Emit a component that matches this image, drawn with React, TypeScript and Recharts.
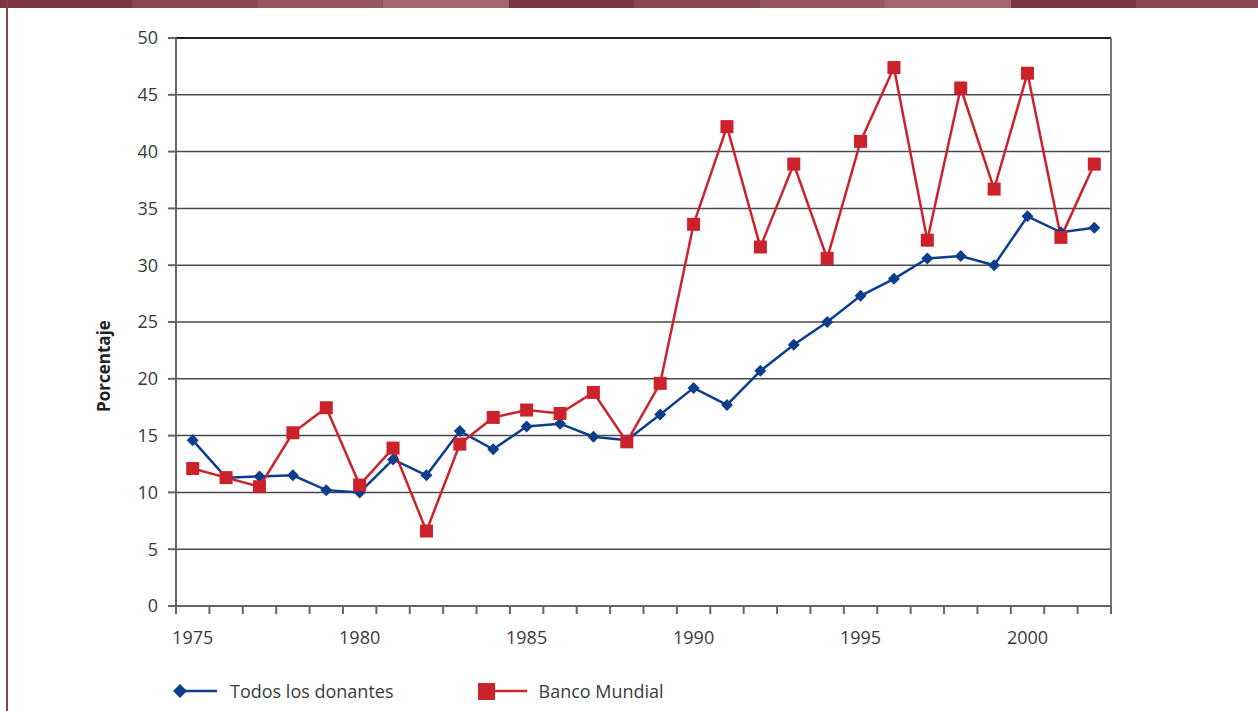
import { CartesianGrid, Line, LineChart, ReferenceLine, XAxis, YAxis } from "recharts";

const YEARS = [
  1975, 1976, 1977, 1978, 1979, 1980, 1981, 1982, 1983, 1984, 1985, 1986, 1987, 1988,
  1989, 1990, 1991, 1992, 1993, 1994, 1995, 1996, 1997, 1998, 1999, 2000, 2001, 2002,
];

const TODOS_LOS_DONANTES = [
  14.6, 11.3, 11.4, 11.5, 10.2, 10.0, 12.9, 11.5, 15.4, 13.8, 15.8, 16.05, 14.9, 14.6,
  16.85, 19.2, 17.7, 20.7, 23.0, 25.0, 27.3, 28.8, 30.6, 30.8, 30.0, 34.3, 32.9, 33.3,
];

const BANCO_MUNDIAL = [
  12.1, 11.3, 10.5, 15.25, 17.45, 10.65, 13.9, 6.6, 14.25, 16.6, 17.25, 16.95, 18.8, 14.45,
  19.6, 33.6, 42.2, 31.6, 38.9, 30.6, 40.9, 47.4, 32.2, 45.6, 36.7, 46.9, 32.45, 38.9,
];

const Y_TICKS = [0, 5, 10, 15, 20, 25, 30, 35, 40, 45, 50];
const YEAR_LABELS = [1975, 1980, 1985, 1990, 1995, 2000];
const YEAR_BOUNDARIES = [
  1974.5, 1975.5, 1976.5, 1977.5, 1978.5, 1979.5, 1980.5, 1981.5, 1982.5, 1983.5, 1984.5,
  1985.5, 1986.5, 1987.5, 1988.5, 1989.5, 1990.5, 1991.5, 1992.5, 1993.5, 1994.5, 1995.5,
  1996.5, 1997.5, 1998.5, 1999.5, 2000.5, 2001.5, 2002.5,
];

const BAR_COLORS = [
  "#7e3441", "#8a4751", "#97575f", "#a2686d", "#7e3441",
  "#8a4751", "#97575f", "#a2686d", "#7e3441", "#8a4751",
];

const BLUE = "#0e3d8b";
const RED = "#cc222b";
const AXIS = "#666";
const TEXT = "#3a3a3a";
const FONT = "'Open Sans', sans-serif";

const data = YEARS.map((year, i) => ({
  year,
  todos: TODOS_LOS_DONANTES[i],
  banco: BANCO_MUNDIAL[i],
}));

function diamondDot(props: any) {
  const { cx, cy, index } = props;
  if (cx == null || cy == null) return <g key={index} />;
  const r = 6;
  return (
    <polygon
      key={index}
      points={`${cx},${cy - r} ${cx + r},${cy} ${cx},${cy + r} ${cx - r},${cy}`}
      fill={BLUE}
    />
  );
}

function squareDot(props: any) {
  const { cx, cy, index } = props;
  if (cx == null || cy == null) return <g key={index} />;
  const s = 13;
  return <rect key={index} x={cx - s / 2} y={cy - s / 2} width={s} height={s} fill={RED} />;
}

function YLabel() {
  return (
    <text
      x={110}
      y={366}
      transform="rotate(-90, 110, 366)"
      textAnchor="middle"
      fontFamily={FONT}
      fontWeight={700}
      fontSize={17}
      fill="#222"
    >
      Porcentaje
    </text>
  );
}

export default function App() {
  return (
    <div
      style={{
        position: "absolute",
        left: 0,
        top: 0,
        width: 1258,
        height: 711,
        background: "#fff",
        fontFamily: FONT,
        overflow: "hidden",
      }}
    >
      <div style={{ position: "absolute", top: 0, left: 0, display: "flex" }}>
        {BAR_COLORS.map((c, i) => (
          <div key={i} style={{ width: i === 0 ? 132 : 125.5, height: 8, background: c }} />
        ))}
      </div>
      <div style={{ position: "absolute", top: 0, left: 6, width: 2, height: 711, background: "#8b3b4a" }} />

      <LineChart
        width={1258}
        height={711}
        data={data}
        margin={{ top: 38, right: 147, bottom: 64, left: 0 }}
      >
        <CartesianGrid horizontal vertical={false} stroke="#4a4a4a" strokeWidth={1.5} />
        <XAxis
          xAxisId="marks"
          dataKey="year"
          type="number"
          domain={[1974.5, 2002.5]}
          ticks={YEAR_BOUNDARIES}
          tickFormatter={() => ""}
          tickSize={8}
          height={1}
          stroke={AXIS}
          strokeWidth={2}
          allowDataOverflow
        />
        <XAxis
          xAxisId="years"
          dataKey="year"
          type="number"
          domain={[1974.5, 2002.5]}
          ticks={YEAR_LABELS}
          axisLine={false}
          tickLine={false}
          tickSize={16}
          tickMargin={8}
          height={40}
          tick={{ fill: TEXT, fontSize: 18, fontFamily: FONT }}
          allowDataOverflow
        />
        <YAxis
          type="number"
          domain={[0, 50]}
          ticks={Y_TICKS}
          width={176}
          tickSize={8}
          tickMargin={10}
          stroke={AXIS}
          strokeWidth={2}
          tick={{ fill: TEXT, fontSize: 18, fontFamily: FONT }}
          label={<YLabel />}
        />
        <ReferenceLine y={50} xAxisId="years" stroke="#222" strokeWidth={2} />
        <ReferenceLine x={2002.5} xAxisId="years" stroke="#777" strokeWidth={2} />
        <Line
          xAxisId="years"
          dataKey="todos"
          name="Todos los donantes"
          stroke={BLUE}
          strokeWidth={2.5}
          dot={diamondDot}
          activeDot={false}
          isAnimationActive={false}
        />
        <Line
          xAxisId="years"
          dataKey="banco"
          name="Banco Mundial"
          stroke={RED}
          strokeWidth={2.5}
          dot={squareDot}
          activeDot={false}
          isAnimationActive={false}
        />
      </LineChart>

      <div
        style={{
          position: "absolute",
          top: 679,
          left: 170,
          display: "flex",
          alignItems: "center",
          fontSize: 18,
          color: TEXT,
          lineHeight: "24px",
        }}
      >
        <svg width={50} height={24}>
          <line x1={10} y1={12} x2={47} y2={12} stroke={BLUE} strokeWidth={2.5} />
          <polygon points="10,5 17,12 10,19 3,12" fill={BLUE} />
        </svg>
        <span style={{ marginLeft: 10 }}>Todos los donantes</span>
        <svg width={50} height={24} style={{ marginLeft: 84 }}>
          <line x1={8} y1={12} x2={49} y2={12} stroke={RED} strokeWidth={2.5} />
          <rect x={0} y={4} width={17} height={17} fill={RED} />
        </svg>
        <span style={{ marginLeft: 11 }}>Banco Mundial</span>
      </div>
    </div>
  );
}
